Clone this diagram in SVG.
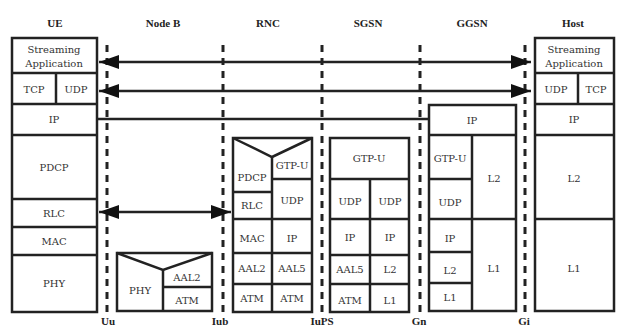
<svg xmlns="http://www.w3.org/2000/svg" width="617" height="327" viewBox="0 0 617 327">
<style>
.b{fill:#fff;stroke:#222;stroke-width:2.5}
.l{fill:none;stroke:#222;stroke-width:2.5}
.d{fill:none;stroke:#222;stroke-width:3;stroke-dasharray:7 6}
text{font-family:'DejaVu Serif','Liberation Serif',serif;font-size:10px;fill:#333;text-anchor:middle}
.h{font-family:'Liberation Serif','DejaVu Serif',serif;font-weight:bold;font-size:11px;fill:#222}
</style>
<defs>
<marker id="ah" markerUnits="userSpaceOnUse" markerWidth="22" markerHeight="16" refX="20" refY="7" orient="auto-start-reverse" viewBox="0 0 22 14">
<path d="M0,0 L20,7 L0,14 Z" fill="#111"/>
</marker>
</defs>
<rect width="617" height="327" fill="#fff"/>
<g id="headers">
<text class="h" x="55" y="27">UE</text>
<text class="h" x="163" y="27">Node B</text>
<text class="h" x="268" y="27">RNC</text>
<text class="h" x="368" y="27">SGSN</text>
<text class="h" x="472" y="27">GGSN</text>
<text class="h" x="573" y="27">Host</text>
</g>
<g id="interfaces">
<line class="d" x1="107" y1="45" x2="107" y2="313"/>
<line class="d" x1="223" y1="45" x2="223" y2="313"/>
<line class="d" x1="322" y1="45" x2="322" y2="313"/>
<line class="d" x1="420" y1="45" x2="420" y2="313"/>
<line class="d" x1="525" y1="45" x2="525" y2="313"/>
<text class="h" x="108" y="325">Uu</text>
<text class="h" x="220" y="325">Iub</text>
<text class="h" x="322" y="325">IuPS</text>
<text class="h" x="419" y="325">Gn</text>
<text class="h" x="524" y="325">Gi</text>
</g>
<g id="UE">
<rect class="b" x="12" y="38" width="85" height="274"/>
<line class="l" x1="12" y1="73" x2="97" y2="73"/>
<line class="l" x1="56" y1="73" x2="56" y2="104"/>
<line class="l" x1="12" y1="104" x2="97" y2="104"/>
<line class="l" x1="12" y1="135" x2="97" y2="135"/>
<line class="l" x1="12" y1="199" x2="97" y2="199"/>
<line class="l" x1="12" y1="227" x2="97" y2="227"/>
<line class="l" x1="12" y1="255" x2="97" y2="255"/>
<text x="54" y="53">Streaming</text>
<text x="54" y="67">Application</text>
<text x="34" y="93">TCP</text>
<text x="76" y="93">UDP</text>
<text x="54" y="123">IP</text>
<text x="54" y="171">PDCP</text>
<text x="54" y="217">RLC</text>
<text x="54" y="245">MAC</text>
<text x="54" y="287">PHY</text>
</g>
<g id="NodeB">
<rect class="b" x="117" y="253" width="95" height="58"/>
<polyline class="l" points="117,253 163,270 212,253"/>
<line class="l" x1="163" y1="270" x2="163" y2="311"/>
<line class="l" x1="163" y1="287" x2="212" y2="287"/>
<text x="140" y="294">PHY</text>
<text x="187" y="281">AAL2</text>
<text x="187" y="304">ATM</text>
</g>
<g id="RNC">
<rect class="b" x="233" y="138" width="79" height="174"/>
<polyline class="l" points="233,138 272,157 312,138"/>
<line class="l" x1="272" y1="157" x2="272" y2="312"/>
<line class="l" x1="272" y1="179" x2="312" y2="179"/>
<line class="l" x1="233" y1="192" x2="272" y2="192"/>
<line class="l" x1="233" y1="219" x2="312" y2="219"/>
<line class="l" x1="233" y1="253" x2="312" y2="253"/>
<line class="l" x1="233" y1="284" x2="312" y2="284"/>
<text x="252" y="181">PDCP</text>
<text x="292" y="169">GTP-U</text>
<text x="252" y="209">RLC</text>
<text x="292" y="204">UDP</text>
<text x="252" y="242">MAC</text>
<text x="292" y="242">IP</text>
<text x="252" y="272">AAL2</text>
<text x="292" y="272">AAL5</text>
<text x="252" y="302">ATM</text>
<text x="292" y="302">ATM</text>
</g>
<g id="SGSN">
<rect class="b" x="330" y="138" width="79" height="174"/>
<line class="l" x1="330" y1="179" x2="409" y2="179"/>
<line class="l" x1="370" y1="179" x2="370" y2="312"/>
<line class="l" x1="330" y1="219" x2="409" y2="219"/>
<line class="l" x1="330" y1="255" x2="409" y2="255"/>
<line class="l" x1="330" y1="284" x2="409" y2="284"/>
<text x="369" y="162">GTP-U</text>
<text x="350" y="205">UDP</text>
<text x="390" y="205">UDP</text>
<text x="350" y="241">IP</text>
<text x="390" y="241">IP</text>
<text x="350" y="273">AAL5</text>
<text x="390" y="273">L2</text>
<text x="350" y="304">ATM</text>
<text x="390" y="304">L1</text>
</g>
<g id="GGSN">
<rect class="b" x="429" y="105" width="87" height="206"/>
<line class="l" x1="429" y1="135" x2="516" y2="135"/>
<line class="l" x1="472" y1="135" x2="472" y2="311"/>
<line class="l" x1="429" y1="179" x2="472" y2="179"/>
<line class="l" x1="429" y1="219" x2="516" y2="219"/>
<line class="l" x1="429" y1="252" x2="472" y2="252"/>
<line class="l" x1="429" y1="283" x2="472" y2="283"/>
<text x="472" y="124">IP</text>
<text x="450" y="162">GTP-U</text>
<text x="450" y="206">UDP</text>
<text x="494" y="182">L2</text>
<text x="450" y="242">IP</text>
<text x="450" y="274">L2</text>
<text x="450" y="301">L1</text>
<text x="494" y="272">L1</text>
</g>
<g id="Host">
<rect class="b" x="535" y="38" width="79" height="273"/>
<line class="l" x1="535" y1="73" x2="614" y2="73"/>
<line class="l" x1="578" y1="73" x2="578" y2="104"/>
<line class="l" x1="535" y1="104" x2="614" y2="104"/>
<line class="l" x1="535" y1="135" x2="614" y2="135"/>
<line class="l" x1="535" y1="219" x2="614" y2="219"/>
<text x="574" y="53">Streaming</text>
<text x="574" y="67">Application</text>
<text x="556" y="93">UDP</text>
<text x="596" y="93">TCP</text>
<text x="574" y="123">IP</text>
<text x="574" y="182">L2</text>
<text x="574" y="272">L1</text>
</g>
<g id="connectors">
<line class="l" x1="99" y1="62" x2="531" y2="62" marker-start="url(#ah)" marker-end="url(#ah)"/>
<line class="l" x1="99" y1="91" x2="531" y2="91" marker-start="url(#ah)" marker-end="url(#ah)"/>
<line class="l" x1="97" y1="119" x2="429" y2="119"/>
<line class="l" x1="99" y1="212" x2="231" y2="212" marker-start="url(#ah)" marker-end="url(#ah)"/>
</g>
</svg>
